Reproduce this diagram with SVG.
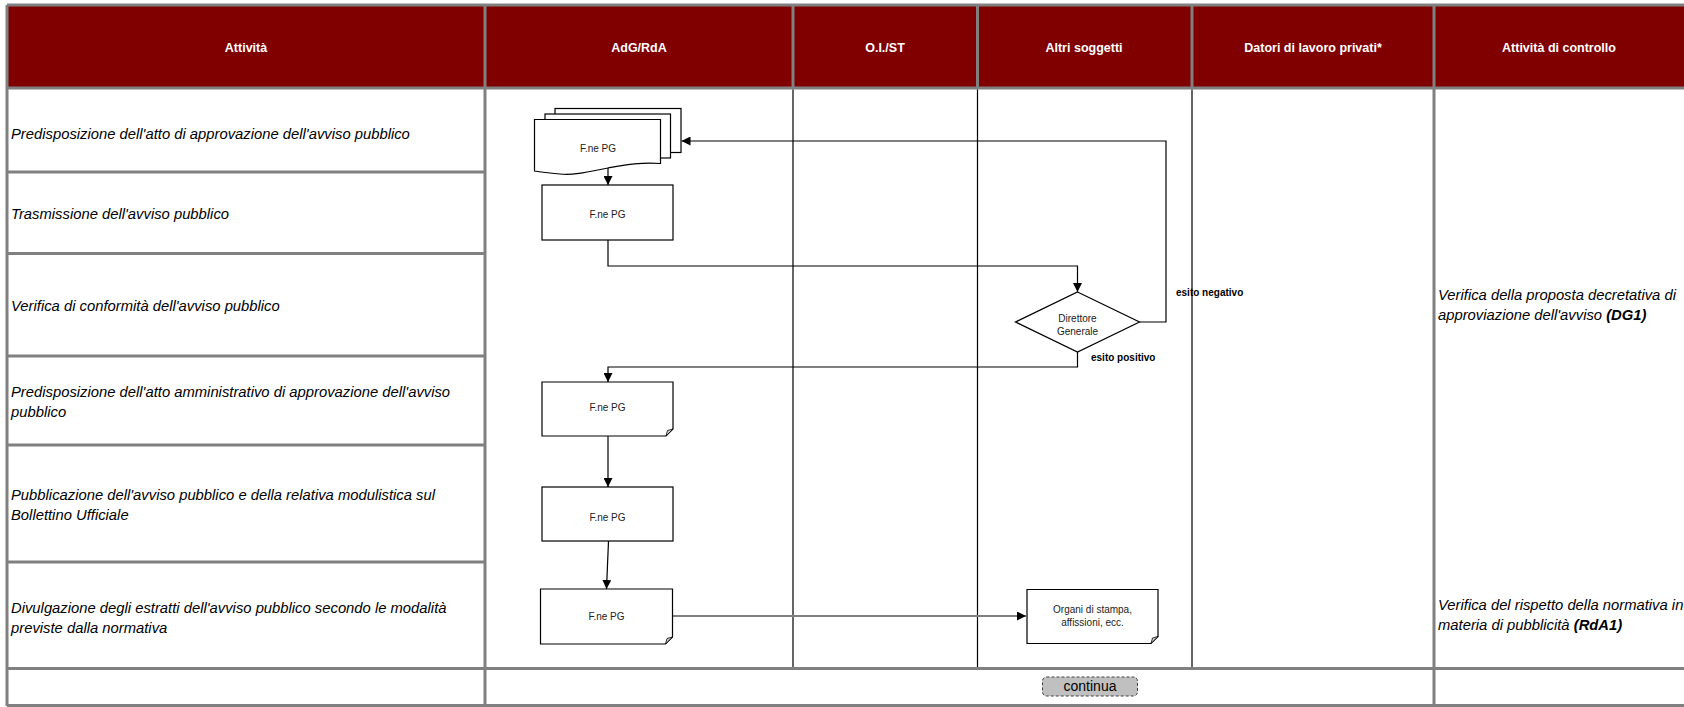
<svg xmlns="http://www.w3.org/2000/svg" width="1684" height="707" viewBox="0 0 1684 707">
<style>
.grid{stroke:#808080;stroke-width:3;fill:none}
.lane{stroke:#000;stroke-width:1.2;fill:none}
.hdr{font-family:"Liberation Sans",Arial,sans-serif;font-weight:bold;font-size:12.5px;fill:#fff;text-anchor:middle}
.act{font-family:"Liberation Sans",Arial,sans-serif;font-style:italic;font-size:14.8px;fill:#000}
.shape{fill:#fff;stroke:#000;stroke-width:1.2}
.fold{fill:#d0d0d0;stroke:#000;stroke-width:0.8}
.lbl{font-family:"Liberation Sans",Arial,sans-serif;font-size:10px;fill:#222;text-anchor:middle}
.blbl{font-family:"Liberation Sans",Arial,sans-serif;font-size:10px;font-weight:bold;fill:#000}
.conn{stroke:#000;stroke-width:1.2;fill:none}
</style>
<defs>
<marker id="arr" markerUnits="userSpaceOnUse" markerWidth="9" markerHeight="9" refX="9" refY="4.5" orient="auto">
<path d="M0,0 L9,4.5 L0,9 z" fill="#000"/>
</marker>
</defs>
<rect width="1684" height="707" fill="#fff"/>
<g id="table">
<rect x="7" y="5" width="1677" height="83" fill="#800000"/>
<line class="grid" x1="7" y1="5" x2="1684" y2="5"/>
<line class="grid" x1="7" y1="88" x2="1684" y2="88"/>
<line class="grid" x1="7" y1="5" x2="7" y2="706"/>
<line class="grid" x1="485" y1="5" x2="485" y2="706"/>
<line class="grid" x1="793" y1="5" x2="793" y2="88"/>
<line class="grid" x1="977.5" y1="5" x2="977.5" y2="88"/>
<line class="grid" x1="1192" y1="5" x2="1192" y2="88"/>
<line class="grid" x1="1434" y1="5" x2="1434" y2="706"/>
<line class="grid" x1="7" y1="172" x2="485" y2="172"/>
<line class="grid" x1="7" y1="253.5" x2="485" y2="253.5"/>
<line class="grid" x1="7" y1="356" x2="485" y2="356"/>
<line class="grid" x1="7" y1="445" x2="485" y2="445"/>
<line class="grid" x1="7" y1="562" x2="485" y2="562"/>
<line class="grid" x1="7" y1="668.5" x2="1684" y2="668.5"/>
<line class="grid" x1="7" y1="705.5" x2="1684" y2="705.5"/>
<text class="hdr" x="246" y="52">Attività</text>
<text class="hdr" x="639" y="52">AdG/RdA</text>
<text class="hdr" x="885" y="52">O.I./ST</text>
<text class="hdr" x="1084" y="52">Altri soggetti</text>
<text class="hdr" x="1313" y="52">Datori di lavoro privati*</text>
<text class="hdr" x="1559" y="52">Attività di controllo</text>
<text class="act" x="11" y="139">Predisposizione dell'atto di approvazione dell'avviso pubblico</text>
<text class="act" x="11" y="218.5">Trasmissione dell'avviso pubblico</text>
<text class="act" x="11" y="311">Verifica di conformità dell'avviso pubblico</text>
<text class="act" x="11" y="397">Predisposizione dell'atto amministrativo di approvazione dell'avviso</text>
<text class="act" x="11" y="416.5">pubblico</text>
<text class="act" x="11" y="500">Pubblicazione dell'avviso pubblico e della relativa modulistica sul</text>
<text class="act" x="11" y="519.5">Bollettino Ufficiale</text>
<text class="act" x="11" y="613">Divulgazione degli estratti dell'avviso pubblico secondo le modalità</text>
<text class="act" x="11" y="632.5">previste dalla normativa</text>
<text class="act" x="1438" y="300">Verifica della proposta decretativa di</text>
<text class="act" x="1438" y="320">approviazione dell'avviso  <tspan font-weight="bold">(DG1)</tspan></text>
<text class="act" x="1438" y="610">Verifica del rispetto della normativa in</text>
<text class="act" x="1438" y="630">materia di pubblicità  <tspan font-weight="bold">(RdA1)</tspan></text>
</g>
<g id="lanes">
<line class="lane" x1="793" y1="89.5" x2="793" y2="667"/>
<line class="lane" x1="977.5" y1="89.5" x2="977.5" y2="667"/>
<line class="lane" x1="1192" y1="89.5" x2="1192" y2="667"/>
</g>
<g id="connectors">
<path class="conn" d="M608,168 L608,185" marker-end="url(#arr)"/>
<path class="conn" d="M608,240 L608,266 L1077.5,266 L1077.5,292" marker-end="url(#arr)"/>
<path class="conn" d="M1139.5,322 L1166,322 L1166,141 L681.5,141" marker-end="url(#arr)"/>
<path class="conn" d="M1077.5,352 L1077.5,367 L608,367 L608,382" marker-end="url(#arr)"/>
<path class="conn" d="M608,436 L608,487" marker-end="url(#arr)"/>
<path class="conn" d="M608.5,541 L606.5,589" marker-end="url(#arr)"/>
<path d="M672.5,616 L1026,616" stroke="#808080" stroke-width="1.8" fill="none" marker-end="url(#arr)"/>
<text class="blbl" x="1176" y="295.5">esito negativo</text>
<text class="blbl" x="1091" y="360.5">esito positivo</text>
</g>
<g id="n_multidoc">
<rect class="shape" x="555" y="108.5" width="126" height="44"/>
<rect class="shape" x="545" y="114" width="125.5" height="44"/>
<path class="shape" d="M534.5,119.5 L660.5,119.5 L660.5,163.5 C640,162 625,165 608,168 C590,171.5 575,175.5 560,174 C548,173 540,172 534.5,171 Z"/>
<text class="lbl" x="598" y="151.5">F.ne PG</text>
</g>
<g id="n_trasm">
<rect class="shape" x="542" y="185" width="131" height="55"/>
<text class="lbl" x="607.5" y="218">F.ne PG</text>
</g>
<g id="n_dg">
<path class="shape" d="M1077.5,292 L1139.5,322 L1077.5,352 L1015.5,322 Z"/>
<text class="lbl" x="1077.5" y="321.5">Direttore</text>
<text class="lbl" x="1077.5" y="334.5">Generale</text>
</g>
<g id="n_atto">
<path class="shape" d="M542,382 L673,382 L673,429 L666,436 L542,436 Z"/>
<path class="fold" d="M666,436 L667.5,430.5 L673,429 Z"/>
<text class="lbl" x="607.5" y="411">F.ne PG</text>
</g>
<g id="n_pubbl">
<rect class="shape" x="542" y="487" width="131" height="54"/>
<text class="lbl" x="607.5" y="520.5">F.ne PG</text>
</g>
<g id="n_divulg">
<path class="shape" d="M540.5,589 L672.5,589 L672.5,637 L665.5,644 L540.5,644 Z"/>
<path class="fold" d="M665.5,644 L667,638.5 L672.5,637 Z"/>
<text class="lbl" x="606.5" y="619.5">F.ne PG</text>
</g>
<g id="n_organi">
<path class="shape" d="M1027,589.5 L1158,589.5 L1158,636.5 L1151,643.5 L1027,643.5 Z"/>
<path class="fold" d="M1151,643.5 L1152.5,638 L1158,636.5 Z"/>
<text class="lbl" x="1092.5" y="612.5">Organi di stampa,</text>
<text class="lbl" x="1092.5" y="626">affissioni, ecc.</text>
</g>
<g id="n_continua">
<rect x="1042.5" y="677" width="95" height="19" rx="4" fill="#c0c0c0" stroke="#404040" stroke-width="1" stroke-dasharray="3,2"/>
<text x="1090" y="691" font-family="Liberation Sans,Arial,sans-serif" font-size="14px" fill="#000" text-anchor="middle">continua</text>
</g>
</svg>
